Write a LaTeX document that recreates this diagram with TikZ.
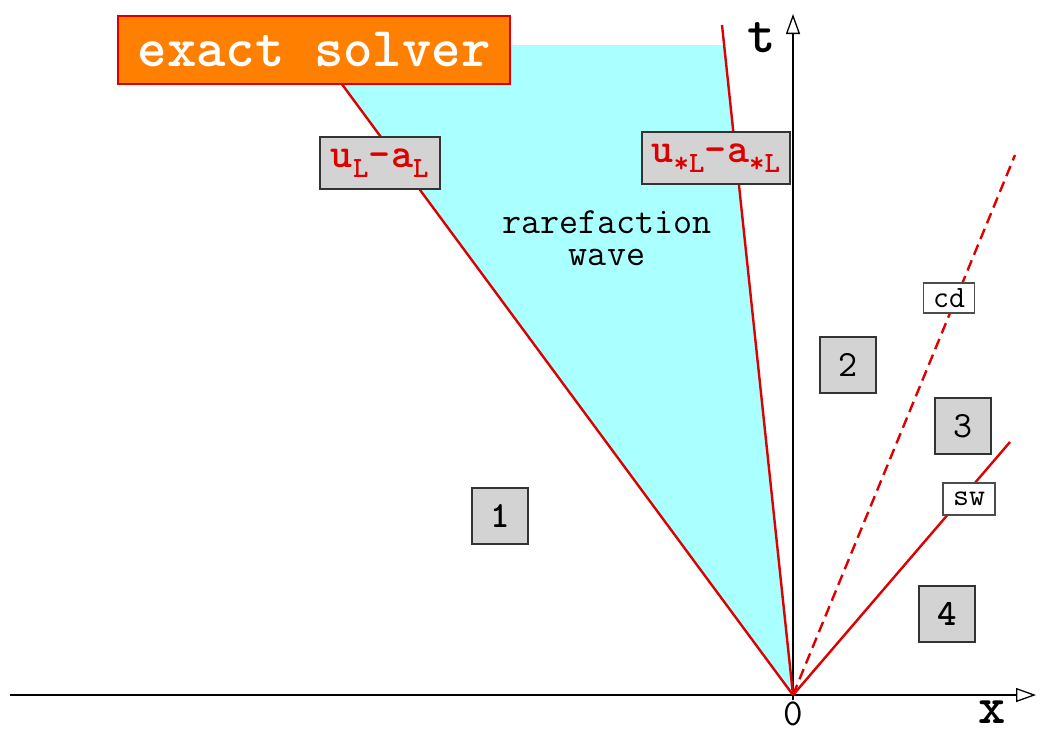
\documentclass[tikz,border=0pt]{standalone}
\usepackage{fontspec}
\setmonofont{Latin Modern Mono}
\newfontfamily\tbold{lmmonolt10-bold.otf}
\usetikzlibrary{arrows.meta}
\definecolor{rfcyan}{HTML}{AAFFFF}
\definecolor{wred}{HTML}{DD0000}
\definecolor{lbgray}{HTML}{D3D3D3}
\definecolor{solvorange}{HTML}{FF8000}
\begin{document}
\begin{tikzpicture}[x=1pt,y=-1pt,
  wave/.style={draw=wred,line width=2.4pt},
  axis/.style={draw=black,line width=1.6pt,-{Triangle[open,length=20pt,width=14pt,line width=1.3pt]}},
  graybox/.style={draw=black!80,fill=lbgray,line width=1.5pt,inner sep=0pt},
  whitebox/.style={draw=black!70,fill=white,line width=1.3pt,inner sep=0pt},
  fs/.style={font=\ttfamily\fontsize{#1}{#1}\selectfont},
  fb/.style={font=\tbold\fontsize{#1}{#1}\selectfont}
]
\useasboundingbox (0,0) rectangle (1040,732);
\coordinate (O) at (793,695);
\coordinate (LT) at (313,45);
\coordinate (RT) at (724,45);
\coordinate (RTT) at (722,25);
\coordinate (CD) at (1015,155);
\coordinate (SW) at (1010,442);
\coordinate (XL) at (10,695);
\coordinate (XR) at (1036,695);
\coordinate (TB) at (793,700);
\coordinate (TT) at (793,14);
% fan
\fill[rfcyan] (O) -- (LT) -- (RT) -- cycle;
% axes
\draw[axis] (XL) -- (XR);
\draw[axis] (TB) -- (TT);
% waves
\draw[wave] (O) -- (LT);
\draw[wave] (O) -- (RTT);
\draw[wave,dash pattern=on 11pt off 6pt] (O) -- (CD);
\draw[wave] (O) -- (SW);
% labels
\node[draw=wred,fill=solvorange,line width=2.6pt,minimum width=392pt,minimum height=68pt,inner sep=0pt,
  text=white,fb=56] (solver) at (314,50) {exact solver};
\node[graybox,minimum width=120pt,minimum height=52pt,text=wred,fb=42] (ul) at (380,163)
  {u\textsubscript{L}-a\textsubscript{L}};
\node[graybox,minimum width=148pt,minimum height=52pt,text=wred,fb=42] (us) at (716,158)
  {u\textsubscript{*L}-a\textsubscript{*L}};
\node[fs=37,align=center] (rare) at (607,238) {rarefaction\\[-5pt]wave};
\node[whitebox,minimum width=51pt,minimum height=30pt,fs=31] (cdl) at (949,298) {cd};
\node[whitebox,minimum width=52pt,minimum height=32pt,fs=31] (swl) at (969,499) {sw};
\node[graybox,minimum size=56pt,fb=37] (r1) at (500,516) {1};
\node[graybox,minimum size=56pt,fs=37] (r2) at (848,365) {2};
\node[graybox,minimum size=56pt,fs=37] (r3) at (963,426) {3};
\node[graybox,minimum size=56pt,fb=37] (r4) at (947,614) {4};
\node[fb=54] (tl) at (762,38) {t};
\node[fb=52] (xl) at (992,712) {x};
\node[fs=38] (zero) at (793,714) {0};
\end{tikzpicture}
\end{document}
